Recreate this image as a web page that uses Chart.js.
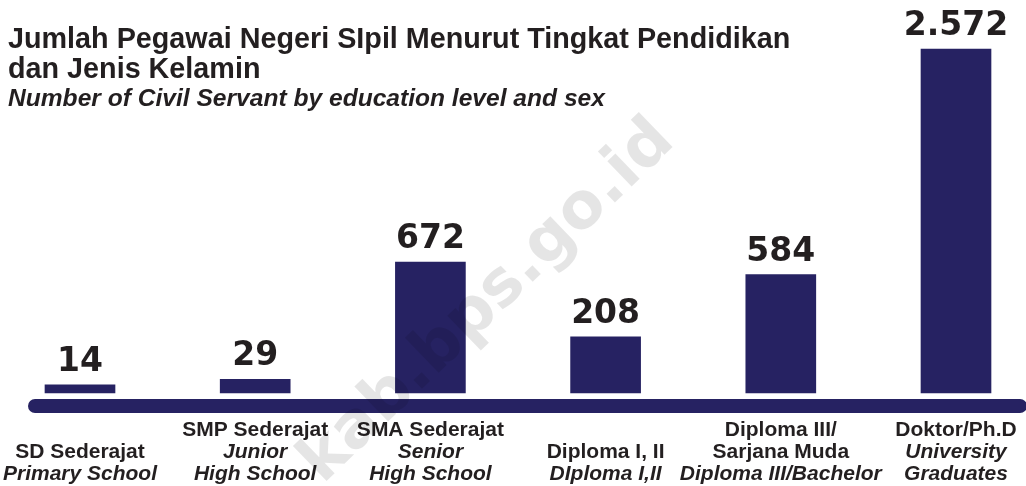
<!DOCTYPE html>
<html>
<head>
<meta charset="utf-8">
<script src="https://cdn.jsdelivr.net/npm/chart.js@4/dist/chart.umd.min.js"></script>
<style>
  html, body { margin: 0; padding: 0; background: #fff; }
  #wrap { position: relative; width: 1026px; height: 486px; overflow: hidden; }
  #title { position: absolute; left: 8px; top: 23px; font-family: "Liberation Sans", Arial, sans-serif; font-weight: 700; color: #231f20; }
  #title div { white-space: nowrap; }
  #title span { display: inline-block; }
  #title .l1 { font-size: 26px; line-height: 30px; }
  #title .l2 { font-size: 22px; line-height: 30px; font-style: italic; }
</style>
</head>
<body>
<div id="wrap">
  <canvas id="myChart" width="1026" height="486"></canvas>
  <div id="title">
    <div class="l1"><span data-w="782">Jumlah Pegawai Negeri SIpil Menurut Tingkat Pendidikan</span></div>
    <div class="l1"><span>dan Jenis Kelamin</span></div>
    <div class="l2"><span data-w="597">Number of Civil Servant by education level and sex</span></div>
  </div>
</div>
<script>
// label lines under each bar
const categories = [
  ['SD Sederajat'],
  ['SMP Sederajat'],
  ['SMA Sederajat'],
  ['Diploma I, II'],
  ['Diploma III/', 'Sarjana Muda'],
  ['Doktor/Ph.D']
];
const categoriesEn = [
  ['Primary School'],
  ['Junior', 'High School'],
  ['Senior', 'High School'],
  ['DIploma I,II'],
  ['Diploma III/Bachelor'],
  ['University', 'Graduates']
];
const pegawai = [14, 29, 672, 208, 584, 2572];

const navy = '#262262';
const ink = '#231f20';

// stretch the title lines to the widths in the picture
document.querySelectorAll('#title span[data-w]').forEach(function (el) {
  var fs = parseFloat(getComputedStyle(el).fontSize);
  el.parentNode.style.fontSize = (fs * el.dataset.w / el.offsetWidth) + 'px';
  if (el.dataset.w === '782') {
    el.parentNode.nextElementSibling.style.fontSize = el.parentNode.style.fontSize;
  }
});

// the infographic squeezes bar heights, so use a power scale
const POWER = 0.72;
class PowerScale extends Chart.LinearScale {
  getPixelForValue(value) {
    if (value === null || value === undefined) return NaN;
    var t = (value - this.min) / (this.max - this.min);
    return this.getPixelForDecimal(Math.pow(Math.max(t, 0), POWER));
  }
  getValueForPixel(pixel) {
    var d = this.getDecimalForPixel(pixel);
    return this.min + Math.pow(Math.max(d, 0), 1 / POWER) * (this.max - this.min);
  }
}
PowerScale.id = 'power';
PowerScale.defaults = Chart.LinearScale.defaults;
Chart.register(PowerScale);

function fmt(v) {
  return String(v).replace(/\B(?=(\d{3})+(?!\d))/g, '.');
}

const decor = {
  id: 'decor',
  beforeDatasetsDraw(chart) {
    var ctx = chart.ctx;
    // thick base line
    ctx.save();
    ctx.strokeStyle = navy;
    ctx.lineWidth = 14;
    ctx.lineCap = 'round';
    ctx.beginPath();
    ctx.moveTo(35, 406);
    ctx.lineTo(1020, 406);
    ctx.stroke();
    ctx.restore();
  },
  afterDatasetsDraw(chart) {
    var ctx = chart.ctx;
    var meta = chart.getDatasetMeta(0);
    var xs = chart.scales.x;
    ctx.save();
    ctx.fillStyle = ink;
    ctx.textAlign = 'center';
    ctx.textBaseline = 'alphabetic';
    ctx.font = 'bold 33px "DejaVu Sans"';
    meta.data.forEach(function (bar, i) {
      ctx.fillText(fmt(pegawai[i]), bar.x, bar.y - 14);
    });
    // category labels, bottom aligned
    categories.forEach(function (lines, i) {
      var x = xs.getPixelForValue(i);
      var all = lines.map(function (t) { return [t, false]; })
        .concat(categoriesEn[i].map(function (t) { return [t, true]; }));
      var y = 480 - (all.length - 1) * 22;
      all.forEach(function (item) {
        ctx.font = (item[1] ? 'italic ' : '') + 'bold 21px "Liberation Sans"';
        ctx.fillText(item[0], x, y);
        y += 22;
      });
    });
    // watermark
    ctx.translate(488, 302);
    ctx.rotate(-44 * Math.PI / 180);
    ctx.fillStyle = 'rgba(0, 0, 0, 0.1)';
    ctx.font = 'bold 64px "DejaVu Sans"';
    ctx.textBaseline = 'middle';
    ctx.fillText('kab.bps.go.id', 0, 0);
    ctx.restore();
  }
};

const config = {
  type: 'bar',
  data: {
    labels: categories.map(function (l) { return l.join(' '); }),
    datasets: [{
      label: 'Pegawai Negeri Sipil',
      data: pegawai,
      backgroundColor: navy,
      barThickness: 70,
      clip: false
    }]
  },
  options: {
    responsive: false,
    animation: false,
    layout: {
      padding: { left: 80, right: 70, top: 49, bottom: 93 }
    },
    scales: {
      x: { type: 'category', offset: false, display: false, grid: { display: false } },
      y: { type: 'power', min: 0, max: 2572, display: false, grid: { display: false } }
    },
    plugins: {
      legend: { display: false },
      tooltip: { enabled: false }
    }
  },
  plugins: [decor]
};

var myChart = new Chart(document.getElementById('myChart'), config);
</script>
</body>
</html>
